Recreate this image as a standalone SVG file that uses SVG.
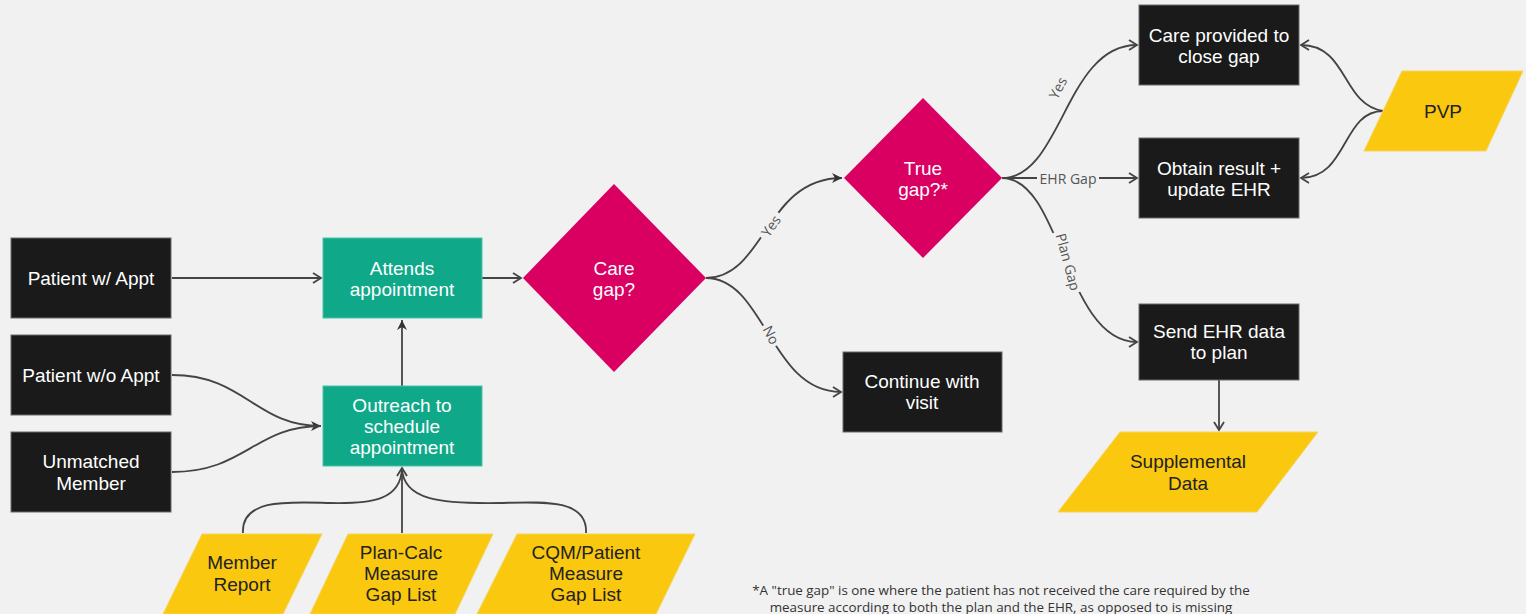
<svg xmlns="http://www.w3.org/2000/svg" width="1526" height="614" viewBox="0 0 1526 614">
<defs>
<marker id="open" markerUnits="userSpaceOnUse" markerWidth="12" markerHeight="12" refX="9" refY="5" orient="auto" overflow="visible">
<path d="M1,0 L9,5 L1,10" fill="none" stroke="#444" stroke-width="1.8"/>
</marker>
<marker id="fill" markerUnits="userSpaceOnUse" markerWidth="12" markerHeight="12" refX="10" refY="5" orient="auto" overflow="visible">
<path d="M0,0 L10,5 L0,10 L3,5 Z" fill="#333"/>
</marker>
<style>
.dark{fill:#1a1a1a;stroke:#6a6a6a;stroke-width:1}
.teal{fill:#0fa98a;stroke:#4cc3a8;stroke-width:1}
.pink{fill:#d90062}
.yel{fill:#f9c80f;stroke:#f5d560;stroke-width:1}
.t{font-family:"Liberation Sans",Arial,sans-serif;font-size:19px;fill:#fff;text-anchor:middle}
.ty{font-family:"Liberation Sans",Arial,sans-serif;font-size:19px;fill:#222;text-anchor:middle}
.c{fill:none;stroke:#444;stroke-width:1.8}
.lb{font-family:"Open Sans","Noto Sans",sans-serif;font-size:14px;fill:#555;text-anchor:middle}
.note{font-family:"Open Sans","Noto Sans",sans-serif;font-size:13.4px;fill:#333;text-anchor:middle}
.bg{fill:#f1f1f1}
</style>
</defs>
<rect width="1526" height="614" fill="#f1f1f1"/>

<g id="connectors">
<path class="c" d="M172,278 L321,278" marker-end="url(#open)"/>
<path class="c" d="M482,278 L521,278" marker-end="url(#open)"/>
<path class="c" d="M402,386 L402,320" marker-end="url(#fill)"/>
<path class="c" d="M172,375 C245,375 255,426 321,426" marker-end="url(#fill)"/>
<path class="c" d="M172,472 C245,472 255,426 321,426"/>
<path class="c" d="M402,533 L402,468" marker-end="url(#open)"/>
<path class="c" d="M243,533 C241,498 290,502 330,503 C372,504 401,500 402,468"/>
<path class="c" d="M586,533 C588,498 540,502 500,503 C440,504 403,500 402,468"/>
<path class="c" d="M706,278 C765,278 765,178 842,178" marker-end="url(#fill)"/>
<path class="c" d="M706,278 C765,278 770,392 841,392" marker-end="url(#open)"/>
<path class="c" d="M1002,178 C1062,178 1065,45 1137,45" marker-end="url(#open)"/>
<path class="c" d="M1002,178 L1137,178" marker-end="url(#open)"/>
<path class="c" d="M1002,178 C1062,178 1065,342 1137,342" marker-end="url(#open)"/>
<path class="c" d="M1383,111 C1342,105 1348,45 1301,45" marker-end="url(#open)"/>
<path class="c" d="M1383,111 C1342,111 1348,178 1301,178" marker-end="url(#open)"/>
<path class="c" d="M1219,380 L1219,430" marker-end="url(#open)"/>
<g transform="translate(771,226) rotate(-55)"><rect class="bg" x="-15" y="-8" width="30" height="16"/><text class="lb" y="5">Yes</text></g>
<g transform="translate(771,335) rotate(62)"><rect class="bg" x="-12" y="-8" width="24" height="16"/><text class="lb" y="5">No</text></g>
<g transform="translate(1058,88) rotate(-62)"><rect class="bg" x="-15" y="-8" width="30" height="16"/><text class="lb" y="5">Yes</text></g>
<g transform="translate(1068,179)"><rect class="bg" x="-31" y="-8" width="62" height="16"/><text class="lb" y="5">EHR Gap</text></g>
<g transform="translate(1068,262) rotate(75)"><rect class="bg" x="-32" y="-8" width="64" height="16"/><text class="lb" y="5">Plan Gap</text></g>
</g>

<g id="patient-w-appt"><rect class="dark" x="11" y="238" width="160" height="80"/><text class="t" x="91" y="285">Patient w/ Appt</text></g>
<g id="patient-wo-appt"><rect class="dark" x="11" y="335" width="160" height="80"/><text class="t" x="91" y="382">Patient w/o Appt</text></g>
<g id="unmatched-member"><rect class="dark" x="11" y="432" width="160" height="80"/><text class="t" x="91" y="468">Unmatched</text><text class="t" x="91" y="490">Member</text></g>
<g id="attends"><rect class="teal" x="323" y="238" width="159" height="80"/><text class="t" x="402" y="275">Attends</text><text class="t" x="402" y="296">appointment</text></g>
<g id="outreach"><rect class="teal" x="323" y="386" width="159" height="80"/><text class="t" x="402" y="412">Outreach to</text><text class="t" x="402" y="433">schedule</text><text class="t" x="402" y="454">appointment</text></g>
<g id="care-gap"><polygon class="pink" points="614,184 706,278 614,372 523,278"/><text class="t" x="614" y="275">Care</text><text class="t" x="614" y="296">gap?</text></g>
<g id="true-gap"><polygon class="pink" points="923,98 1002,178 923,258 844,178"/><text class="t" x="923" y="175">True</text><text class="t" x="923" y="196">gap?*</text></g>
<g id="continue-visit"><rect class="dark" x="843" y="352" width="159" height="80"/><text class="t" x="922" y="388">Continue with</text><text class="t" x="922" y="409">visit</text></g>
<g id="care-provided"><rect class="dark" x="1139" y="5" width="160" height="80"/><text class="t" x="1219" y="42">Care provided to</text><text class="t" x="1219" y="63">close gap</text></g>
<g id="obtain-result"><rect class="dark" x="1139" y="138" width="160" height="80"/><text class="t" x="1219" y="175">Obtain result +</text><text class="t" x="1219" y="196">update EHR</text></g>
<g id="send-ehr"><rect class="dark" x="1139" y="304" width="160" height="76"/><text class="t" x="1219" y="338">Send EHR data</text><text class="t" x="1219" y="359">to plan</text></g>
<g id="pvp"><polygon class="yel" points="1402,71 1523,71 1486,151 1364,151"/><text class="ty" x="1443" y="118">PVP</text></g>
<g id="supplemental"><polygon class="yel" points="1120,432 1318,432 1257,512 1058,512"/><text class="ty" x="1188" y="468">Supplemental</text><text class="ty" x="1188" y="490">Data</text></g>
<g id="member-report"><polygon class="yel" points="202,534 322,534 283,614 163,614"/><text class="ty" x="242" y="569">Member</text><text class="ty" x="242" y="591">Report</text></g>
<g id="plan-calc"><polygon class="yel" points="348,534 493,534 455,614 310,614"/><text class="ty" x="401" y="559">Plan-Calc</text><text class="ty" x="401" y="580">Measure</text><text class="ty" x="401" y="601">Gap List</text></g>
<g id="cqm"><polygon class="yel" points="517,534 695,534 656,614 477,614"/><text class="ty" x="586" y="559">CQM/Patient</text><text class="ty" x="586" y="580">Measure</text><text class="ty" x="586" y="601">Gap List</text></g>

<g id="footnote">
<text class="note" x="1001" y="595">*A "true gap" is one where the patient has not received the care required by the</text>
<text class="note" x="1001" y="612">measure according to both the plan and the EHR, as opposed to is missing</text>
</g>
</svg>
